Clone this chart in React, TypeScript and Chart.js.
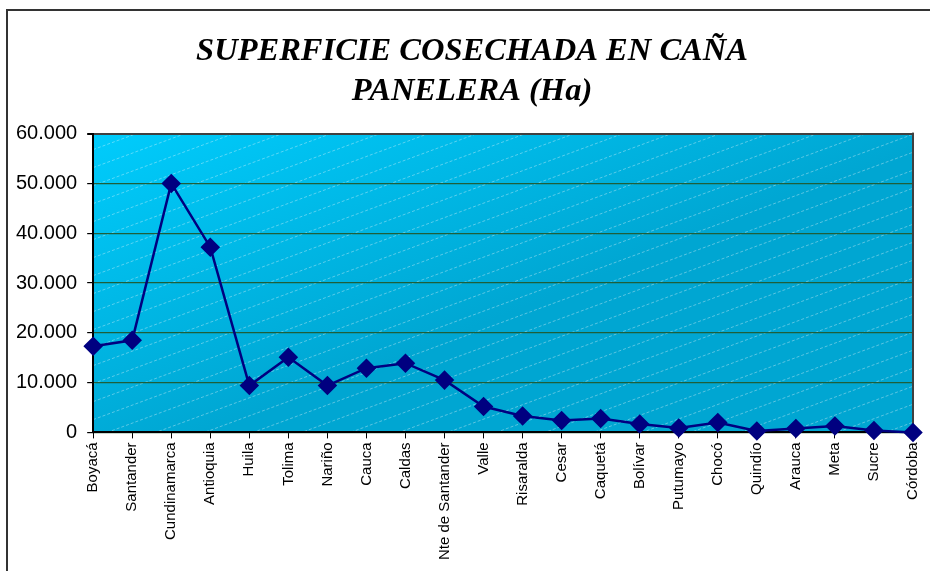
import React, { useEffect, useRef } from 'react';
import { Chart, registerables } from 'chart.js';

Chart.register(...registerables);

const categories = [
  'Boyacá', 'Santander', 'Cundinamarca', 'Antioquia', 'Huila', 'Tolima', 'Nariño',
  'Cauca', 'Caldas', 'Nte de Santander', 'Valle', 'Risaralda', 'Cesar', 'Caquetá',
  'Bolívar', 'Putumayo', 'Chocó', 'Quindío', 'Arauca', 'Meta', 'Sucre', 'Córdoba',
];
const superficie = [
  17300, 18500, 50000, 37200, 9400, 15100, 9400,
  12900, 13900, 10500, 5200, 3300, 2400, 2800,
  1700, 900, 2000, 300, 800, 1300, 400, 0,
];
const titleLines = ['SUPERFICIE COSECHADA EN CAÑA', 'PANELERA (Ha)'];
const yMin = 0;
const yMax = 60000;
const yStep = 10000;

const TITLE_FONT_SIZE = 32.5;
const TITLE_LINE_HEIGHT = 1.24;
const TITLE_FAMILY = '"Liberation Serif", "Times New Roman", serif';

function formatThousands(v: number): string {
  return String(Math.round(v)).replace(/\B(?=(\d{3})+(?!\d))/g, '.');
}

const decorPlugin = {
  id: 'decor',
  beforeDraw(chart: any) {
    const { ctx, chartArea } = chart;
    const { left, top, right, bottom } = chartArea;
    ctx.save();
    // outer frame
    ctx.fillStyle = '#333333';
    ctx.fillRect(6, 9, 2, chart.height);
    ctx.fillRect(6, 9, chart.width, 2);
    // plot background gradient
    const g = ctx.createLinearGradient(left, top, left + 120, bottom);
    g.addColorStop(0, '#00CCFC');
    g.addColorStop(1, '#00A6D2');
    ctx.fillStyle = g;
    ctx.fillRect(left, top, right - left, bottom - top);
    // diagonal dashed pattern
    ctx.beginPath();
    ctx.rect(left, top, right - left, bottom - top);
    ctx.clip();
    ctx.strokeStyle = 'rgba(255,255,255,0.35)';
    ctx.lineWidth = 1;
    ctx.setLineDash([3, 2]);
    const slope = 0.37;
    const w = right - left;
    for (let y0 = top - 20; y0 < bottom + w * slope + 20; y0 += 18) {
      ctx.beginPath();
      ctx.moveTo(left, y0);
      ctx.lineTo(right, y0 - w * slope);
      ctx.stroke();
    }
    ctx.restore();
  },
  beforeDatasetsDraw(chart: any) {
    const { ctx, chartArea } = chart;
    ctx.save();
    ctx.fillStyle = '#404040';
    ctx.fillRect(chartArea.right - 1, chartArea.top - 1, 2, chartArea.bottom - chartArea.top + 1);
    ctx.restore();
  },
  afterDraw(chart: any) {
    // visible title, centred like the reference
    const { ctx } = chart;
    const t = chart.titleBlock;
    if (!t) return;
    ctx.save();
    ctx.fillStyle = '#000000';
    ctx.font = `italic bold ${TITLE_FONT_SIZE}px ${TITLE_FAMILY}`;
    ctx.textAlign = 'center';
    ctx.textBaseline = 'middle';
    const lh = TITLE_FONT_SIZE * TITLE_LINE_HEIGHT;
    const cx = 472;
    const y0 = t.top + 31 + lh / 2;
    titleLines.forEach((line, i) => ctx.fillText(line, cx, y0 + i * lh));
    ctx.restore();
  },
};

export default function App() {
  const ref = useRef<HTMLCanvasElement>(null);
  useEffect(() => {
    document.body.style.margin = '0';
    const canvas = ref.current;
    if (!canvas) return;
    const chart = new Chart(canvas, {
      type: 'line',
      data: {
        labels: categories,
        datasets: [
          {
            label: 'Superficie cosechada (Ha)',
            data: superficie,
            borderColor: '#000080',
            backgroundColor: '#000080',
            borderWidth: 2.5,
            pointStyle: 'rectRot',
            pointRadius: 8,
            pointBackgroundColor: '#000080',
            pointBorderColor: '#000080',
            tension: 0,
            clip: false,
          } as any,
        ],
      },
      options: {
        responsive: false,
        animation: false,
        layout: { padding: { left: 6, right: 17, top: 0, bottom: 7 } },
        plugins: {
          legend: { display: false },
          tooltip: { enabled: false },
          title: {
            display: true,
            text: titleLines,
            color: 'rgba(0,0,0,0)',
            font: { family: TITLE_FAMILY, size: TITLE_FONT_SIZE, style: 'italic', weight: 'bold', lineHeight: TITLE_LINE_HEIGHT },
            padding: { top: 31, bottom: 22 },
          },
        },
        scales: {
          x: {
            type: 'category',
            offset: false,
            afterFit: (scale: any) => {
              scale.paddingRight = 0;
            },
            grid: { drawOnChartArea: false, drawTicks: true, tickLength: 6, color: '#000000', tickColor: '#000000' },
            border: { display: true, color: '#000000', width: 2 },
            ticks: {
              autoSkip: false,
              minRotation: 90,
              maxRotation: 90,
              color: '#000000',
              padding: 4,
              font: { family: '"Liberation Sans", Arial, sans-serif', size: 15 },
            },
          },
          y: {
            min: yMin,
            max: yMax,
            ticks: {
              stepSize: yStep,
              color: '#000000',
              padding: 10,
              font: { family: '"Liberation Sans", Arial, sans-serif', size: 20 },
              callback: (v: any) => formatThousands(Number(v)),
            },
            grid: {
              drawTicks: true,
              tickLength: 6,
              tickColor: '#000000',
              lineWidth: (c: any) => (c.tick && c.tick.value === yMax ? 2 : 1.2),
              color: (c: any) => (c.tick && c.tick.value === yMax ? '#404040' : '#1F5F3A'),
            },
            border: { display: true, color: '#000000', width: 2 },
          },
        },
      },
      plugins: [decorPlugin],
    });
    return () => chart.destroy();
  }, []);
  return (
    <div style={{ width: 930, height: 571, background: '#ffffff' }}>
      <canvas ref={ref} width={930} height={571} style={{ display: 'block' }} />
    </div>
  );
}
